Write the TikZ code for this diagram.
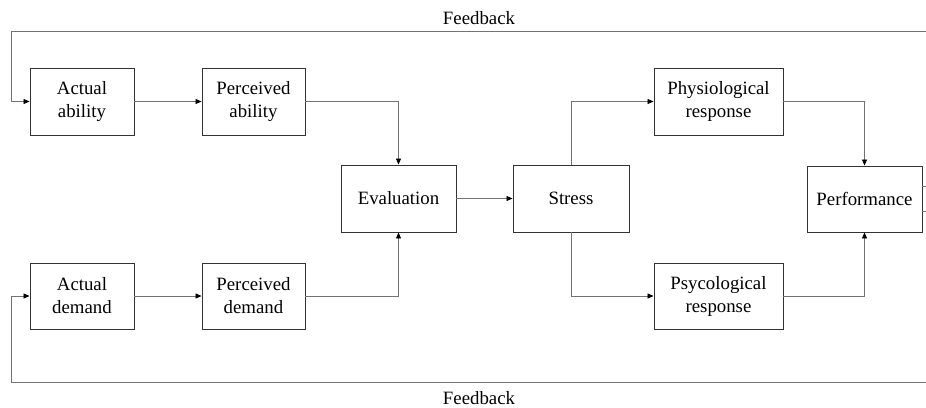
\documentclass[tikz,border=0pt]{standalone}
\usepackage{fontspec}
\setmainfont{Liberation Serif}
\newfontfamily\tnr{Liberation Serif}
\usetikzlibrary{arrows.meta}
\begin{document}
\begin{tikzpicture}[x=1pt,y=-1pt,
  blk/.style={draw=black!80, line width=0.9pt, fill=white, align=center, inner sep=0pt,
    font=\tnr\fontsize{18.8}{23}\selectfont},
  conn/.style={draw=black!55, line width=0.8pt, -{Triangle[length=6pt,width=5pt,black]}},
  plain/.style={draw=black!55, line width=0.8pt},
  lbl/.style={font=\tnr\fontsize{18.8}{23}\selectfont, inner sep=0pt, anchor=base}]
\useasboundingbox (0,0) rectangle (926,407);
% boxes
\node[blk, minimum width=104pt, minimum height=67pt] (aa) at (82,101.5) {Actual\\ability};
\node[blk, minimum width=103pt, minimum height=67pt] (pa) at (253.5,101.5) {Perceived\\ability};
\node[blk, minimum width=115pt, minimum height=67pt] (ev) at (398.5,198.5) {Evaluation};
\node[blk, minimum width=116pt, minimum height=67pt] (st) at (571,198.5) {Stress};
\node[blk, minimum width=129pt, minimum height=67pt] (pr) at (718.5,101.5) {Physiological\\response};
\node[blk, minimum width=115pt, minimum height=66pt] (pf) at (864.5,199) {Performance};
\node[blk, minimum width=104pt, minimum height=66pt] (ad) at (82,296) {Actual\\demand};
\node[blk, minimum width=103pt, minimum height=66pt] (pd) at (253.5,296) {Perceived\\demand};
\node[blk, minimum width=129pt, minimum height=66pt] (ps) at (718.5,296) {Psycological\\response};
% labels
\node[lbl] (fbt) at (479,24.5) {Feedback};
\node[lbl] (fbb) at (479,404.5) {Feedback};
% connectors
\draw[conn] (aa) -- (pa);
\draw[conn] (ad) -- (pd);
\draw[conn] (pa) -| (ev);
\draw[conn] (pd) -| (ev);
\draw[conn] (ev) -- (st);
\draw[conn] (st) |- (pr);
\draw[conn] (st) |- (ps);
\draw[conn] (pr) -| (pf);
\draw[conn] (ps) -| (pf);
% feedback loops
\coordinate (tr) at (926,31);
\coordinate (tl) at (11,31);
\coordinate (br) at (926,382);
\coordinate (bl) at (11,382);
\draw[conn] (tr) -- (tl) |- (aa);
\draw[conn] (br) -- (bl) |- (ad);
% performance outputs
\coordinate (o1) at (926,186);
\coordinate (o2) at (926,211.5);
\draw[plain] (pf.east |- o1) -- (o1);
\draw[plain] (pf.east |- o2) -- (o2);
\end{tikzpicture}
\end{document}
